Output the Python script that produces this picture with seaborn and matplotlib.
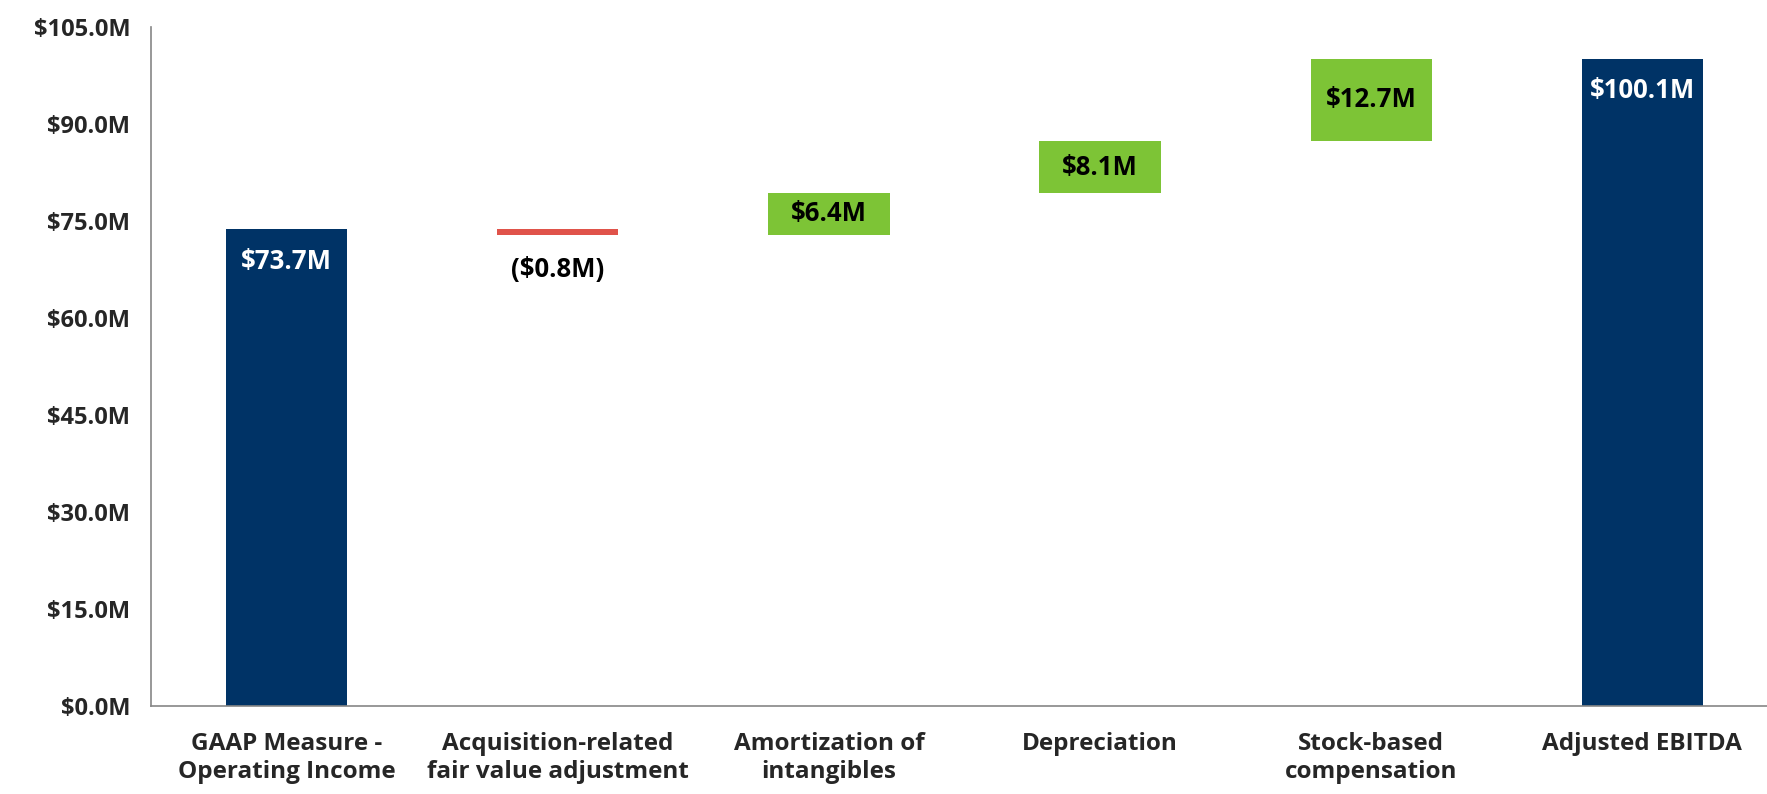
# Waterfall: GAAP operating income -> Adjusted EBITDA
import numpy as np
import pandas as pd
import matplotlib
matplotlib.use("Agg")
import matplotlib.pyplot as plt
import seaborn as sns

# =========================
# DATA
# =========================
categories = [
    "GAAP Measure -\nOperating Income",
    "Acquisition-related\nfair value adjustment",
    "Amortization of\nintangibles",
    "Depreciation",
    "Stock-based\ncompensation",
    "Adjusted EBITDA",
]
steps = [73.7, -0.8, 6.4, 8.1, 12.7, 100.1]  # $M
kinds = ["total", "neg", "pos", "pos", "pos", "total"]
value_labels = ["$73.7M", "($0.8M)", "$6.4M", "$8.1M", "$12.7M", "$100.1M"]
yticks = [0, 15, 30, 45, 60, 75, 90, 105]

# running bottoms / heights for waterfall
bottoms, heights = [], []
running = 0.0
for s, k in zip(steps, kinds):
    if k == "total":
        bottoms.append(0.0)
        heights.append(s)
        running = s
    else:
        lo = min(running, running + s)
        bottoms.append(lo)
        heights.append(abs(s))
        running += s

df = pd.DataFrame({"category": categories, "height": heights})

colors = {"total": "#003366", "pos": "#7DC436", "neg": "#E0534A"}

# =========================
# PLOT
# =========================
sns.set_style("white")
plt.rcParams["font.family"] = ["Open Sans", "DejaVu Sans"]
plt.rcParams["font.weight"] = "bold"
FS_VAL = 18.5
FS_X = 17.5
FS_Y = 17

W, H, DPI = 1767, 794, 100
fig = plt.figure(figsize=(W / DPI, H / DPI), dpi=DPI)
ax = fig.add_axes([151 / W, 88 / H, (1778 - 151) / W, 679 / H])

sns.barplot(data=df, x="category", y="height", order=categories,
            bottom=bottoms, width=0.447, color=colors["total"],
            linewidth=0, ax=ax)

for patch, k in zip(ax.patches, kinds):
    patch.set_facecolor(colors[k])
    patch.set_edgecolor(colors[k])

# value labels
for i, (b, h, k, lab) in enumerate(zip(bottoms, heights, kinds, value_labels)):
    if k == "total":
        ax.text(i, b + h - 4.9, lab, ha="center", va="center",
                color="white", fontsize=FS_VAL, fontweight="bold")
    elif k == "neg":
        ax.text(i, b - 5.4, lab, ha="center", va="center",
                color="black", fontsize=FS_VAL, fontweight="bold")
    else:
        ax.text(i, b + h / 2, lab, ha="center", va="center",
                color="black", fontsize=FS_VAL, fontweight="bold")

ax.set_xlim(-0.5, len(categories) - 0.5)
ax.set_ylim(0, 105)
ax.set_yticks(yticks)
ax.set_yticklabels([f"${v:.1f}M" for v in yticks], fontsize=FS_Y, fontweight="bold")
ax.set_xlabel("")
ax.set_ylabel("")

# category labels centred, tick marks at category boundaries
ax.set_xticks(range(len(categories)))
ax.set_xticklabels(categories, fontsize=FS_X, fontweight="bold", linespacing=1.2)
ax.set_xticks(np.arange(-0.5, len(categories)), minor=True)
ax.tick_params(axis="x", which="major", length=0, pad=19)
ax.tick_params(axis="x", which="minor", length=8, width=1.2, color="#868686", direction="out")
ax.tick_params(axis="y", length=8, width=1.2, color="#868686", direction="out", pad=7)

for side in ["top", "right"]:
    ax.spines[side].set_visible(False)
for side in ["left", "bottom"]:
    ax.spines[side].set_color("#868686")
    ax.spines[side].set_linewidth(1.2)

fig.savefig("out.png", dpi=DPI)
